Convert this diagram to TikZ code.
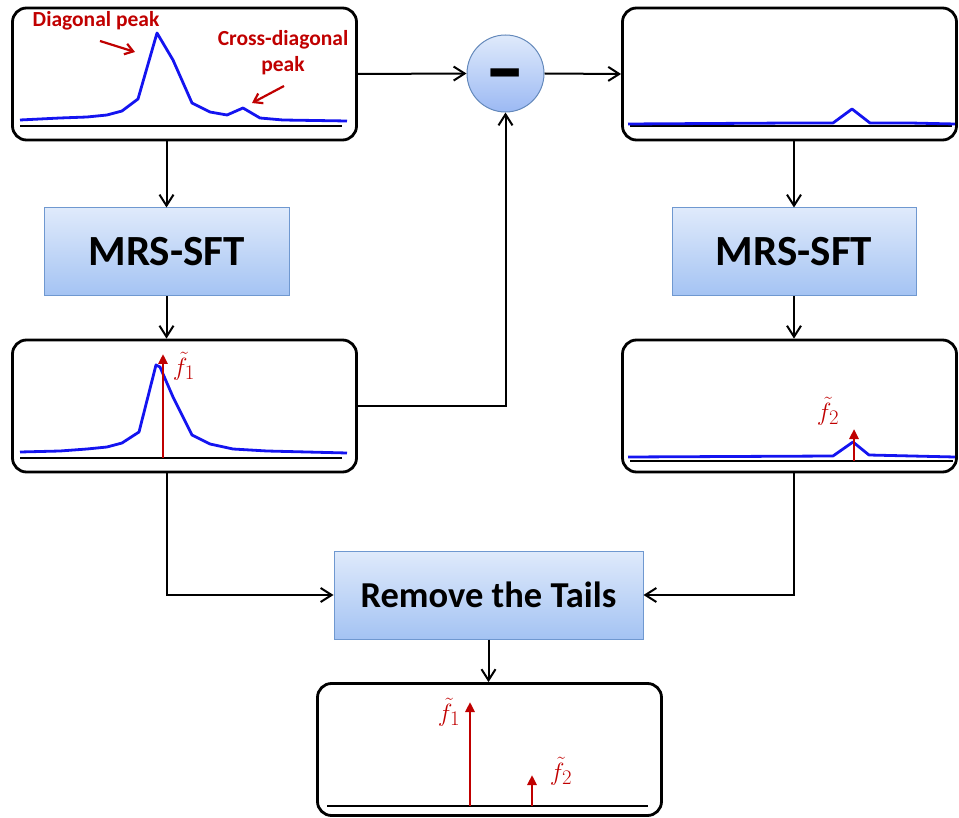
\documentclass[tikz,border=0pt]{standalone}
\usepackage{fontspec}
\setmainfont{Carlito}
\usepackage{tikz}
\usetikzlibrary{arrows.meta,positioning,calc}
\definecolor{cPeak}{HTML}{C00000}
\definecolor{cCurve}{HTML}{1414F0}
\definecolor{cEdge}{HTML}{6F98D0}
\definecolor{cTop}{HTML}{DFEAFB}
\definecolor{cBot}{HTML}{A4C3F3}
\definecolor{cInk}{HTML}{000000}
\tikzset{
  plotbox/.style = {draw=cInk, line width=2.8pt, rounded corners=14pt,
                    inner sep=0pt, minimum height=132pt},
  stage/.style   = {draw=cEdge, line width=1pt, top color=cTop,
                    bottom color=cBot, inner sep=0pt, minimum height=88pt,
                    font=\fontsize{43}{48}\selectfont\bfseries},
  minus/.style   = {circle, draw=cEdge!90!black, line width=1pt,
                    top color=cTop, bottom color=cBot!95!blue,
                    inner sep=0pt, minimum size=77pt,
                    text height=0pt, text depth=0pt,
                    font=\fontsize{72}{72}\selectfont\bfseries},
  flow/.style    = {-{Straight Barb[length=11pt,width=14pt]}, line width=2pt},
  curve/.style   = {draw=cCurve, line width=2.8pt, line join=round},
  axis/.style    = {draw=cInk, line width=2pt},
  spike/.style   = {-{Triangle[length=10pt,width=9pt]}, draw=cPeak,
                    fill=cPeak, line width=2.8pt},
  pointer/.style = {-{Straight Barb[length=8pt,width=11pt]}, draw=cPeak,
                    line width=2.2pt},
  note/.style    = {font=\fontsize{21.5}{26}\selectfont\bfseries, text=cPeak,
                    align=center},
  freq/.style    = {font=\fontsize{28}{30}\selectfont, text=cPeak},
}
\begin{document}
\begin{tikzpicture}[x=1pt, y=-1pt]
  \useasboundingbox (0,0) rectangle (959,818);
  % boxes
  \node[plotbox, minimum width=344pt] (inA) at (184.5,74) {};
  \node[plotbox, minimum width=334pt] (inB) at (789.5,74) {};
  \node[plotbox, minimum width=344pt] (outA) at (184.5,406) {};
  \node[plotbox, minimum width=334pt] (outB) at (789.5,406) {};
  \node[plotbox, minimum width=344pt] (final) at (489.5,749.5) {};
  \node[stage, minimum width=245pt] (sftA) at (166.5,252) {MRS-SFT};
  \node[stage, minimum width=244pt] (sftB) at (794,252) {MRS-SFT};
  \node[stage, minimum width=309pt, font=\fontsize{36.5}{40}\selectfont\bfseries]
    (tails) at (488.5,595) {Remove the Tails};
  \node[minus] (sub) at (505.5,73.5) {\raisebox{-22pt}{\scalebox{1.6}[1.1]{-}}};

  % input spectrum
  \draw[axis] (20,126) -- (342,126);
  \draw[curve] plot coordinates {(20,120) (60,118) (87,117) (107,115)
    (122,111) (138,99) (157,33) (173,60) (192,103) (210,112) (227,115)
    (243,108) (260,118) (283,120) (347,121)};
  \node[note] (diag) at (96,21) {Diagonal peak};
  \node[note] (cross) at (283,53) {Cross-diagonal\\peak};
  \draw[pointer] (100,41) -- (135,52);
  \draw[pointer] (284,86) -- (252,103);

  % residual
  \draw[axis] (630,126) -- (952,126);
  \draw[curve] plot coordinates {(628,124) (792,123) (833,123) (852,109)
    (870,123) (910,123) (955,124)};

  % first estimate
  \draw[axis] (20,458) -- (342,458);
  \draw[curve] plot coordinates {(20,452) (60,451) (87,449) (107,447)
    (122,443) (139,432) (156,365) (160,367) (173,397) (192,435) (210,444)
    (233,449) (267,451) (347,453)};
  \draw[spike] (163,458) -- (163,354);
  \node[freq] (fA) at (184,366) {$\tilde{f}_1$};

  % second estimate
  \draw[axis] (630,461) -- (953,461);
  \draw[curve] plot coordinates {(628,457) (833,456) (853,442) (869,455)
    (955,457)};
  \draw[spike] (854,461) -- (854,429);
  \node[freq] (fB) at (828,411) {$\tilde{f}_2$};

  % result
  \draw[axis] (327,806) -- (648,806);
  \draw[spike] (470,806) -- (470,702);
  \draw[spike] (532,806) -- (532,775);
  \node[freq] (fC) at (449,712) {$\tilde{f}_1$};
  \node[freq] (fD) at (561,771) {$\tilde{f}_2$};

  % connectors
  \draw[flow] (sftA.north |- inA.south) -- (sftA.north);
  \draw[flow] (sftA.south) -- (sftA.south |- outA.north);
  \draw[flow] (inA.east) -- (sub.west);
  \draw[flow] (sub.east) -- (inB.west);
  \draw[flow] (outA.east) -| (sub.south);
  \draw[flow] (sftB.north |- inB.south) -- (sftB.north);
  \draw[flow] (sftB.south) -- (sftB.south |- outB.north);
  \draw[flow] (sftA.south |- outA.south) |- (tails.west);
  \draw[flow] (sftB.south |- outB.south) |- (tails.east);
  \draw[flow] (tails.south) -- (tails.south |- final.north);
\end{tikzpicture}
\end{document}
